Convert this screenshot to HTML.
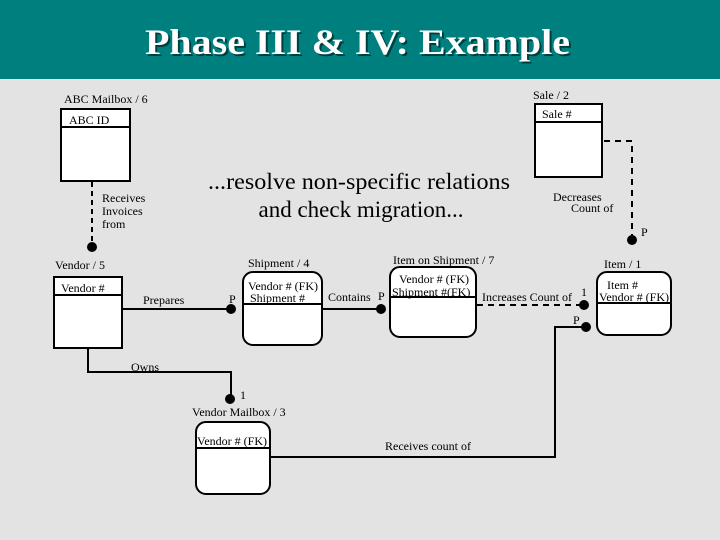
<!DOCTYPE html>
<html><head><meta charset="utf-8"><style>
html,body{margin:0;padding:0;background:#e3e3e3}
svg{display:block}
text{font-family:"Liberation Serif",serif;fill:#000}
</style></head><body>
<svg width="720" height="540" viewBox="0 0 720 540" xmlns="http://www.w3.org/2000/svg">
<rect x="0" y="0" width="720" height="540" fill="#e3e3e3"/>
<rect x="0" y="0" width="720" height="79" fill="#007f7f"/>
<text x="145" y="54" font-size="36" font-weight="bold" textLength="425" lengthAdjust="spacingAndGlyphs" style="fill:#000" opacity="0.5" transform="translate(2,2)">Phase III &amp; IV: Example</text>
<text x="145" y="54" font-size="36" font-weight="bold" textLength="425" lengthAdjust="spacingAndGlyphs" style="fill:#fff">Phase III &amp; IV: Example</text>

<g stroke="#000" stroke-width="2" fill="none">
<line x1="92" y1="182" x2="92" y2="245" stroke-dasharray="5,4"/>
<line x1="122" y1="309" x2="231" y2="309"/>
<line x1="322" y1="309" x2="381" y2="309"/>
<line x1="477" y1="305" x2="584" y2="305" stroke-dasharray="6,5"/>
<polyline points="604,141 632,141 632,240" stroke-dasharray="6,5"/>
<polyline points="88,348 88,372 231,372 231,399"/>
<polyline points="270,457 555,457 555,327 586,327"/>
</g>
<g fill="#000">
<circle cx="92" cy="247" r="5"/>
<circle cx="231" cy="309" r="5"/>
<circle cx="381" cy="309" r="5"/>
<circle cx="584" cy="305" r="5"/>
<circle cx="586" cy="327" r="5"/>
<circle cx="632" cy="240" r="5"/>
<circle cx="230" cy="399" r="5"/>
</g>

<g stroke="#000" stroke-width="2" fill="#fff">
<rect x="61" y="109" width="69" height="72"/>
<line x1="61" y1="127" x2="130" y2="127"/>
<rect x="54" y="277" width="68" height="71"/>
<line x1="54" y1="295" x2="122" y2="295"/>
<rect x="535" y="104" width="67" height="73"/>
<line x1="535" y1="122" x2="602" y2="122"/>
<rect x="243" y="272" width="79" height="73" rx="10"/>
<line x1="243" y1="304" x2="322" y2="304"/>
<rect x="390" y="267" width="86" height="70" rx="10"/>
<line x1="390" y1="297" x2="476" y2="297"/>
<rect x="597" y="272" width="74" height="63" rx="10"/>
<line x1="597" y1="303" x2="671" y2="303"/>
<rect x="196" y="422" width="74" height="72" rx="10"/>
<line x1="196" y1="448" x2="270" y2="448"/>
</g>

<g font-size="12">
<text x="64" y="103">ABC Mailbox / 6</text>
<text x="69" y="124">ABC ID</text>
<text x="102" y="202">Receives</text>
<text x="102" y="215">Invoices</text>
<text x="102" y="228">from</text>
<text x="55" y="269">Vendor / 5</text>
<text x="61" y="292">Vendor #</text>
<text x="143" y="304">Prepares</text>
<text x="229" y="303">P</text>
<text x="248" y="267">Shipment / 4</text>
<text x="248" y="290">Vendor # (FK)</text>
<text x="250" y="302">Shipment #</text>
<text x="328" y="301">Contains</text>
<text x="378" y="300">P</text>
<text x="393" y="264">Item on Shipment / 7</text>
<text x="399" y="283">Vendor # (FK)</text>
<text x="392" y="296">Shipment #(FK)</text>
<text x="482" y="301">Increases Count of</text>
<text x="581" y="296">1</text>
<text x="573" y="324">P</text>
<text x="604" y="268">Item / 1</text>
<text x="607" y="289">Item #</text>
<text x="599" y="301">Vendor # (FK)</text>
<text x="533" y="99">Sale / 2</text>
<text x="542" y="118">Sale #</text>
<text x="553" y="201">Decreases</text>
<text x="571" y="212">Count of</text>
<text x="641" y="236">P</text>
<text x="131" y="371">Owns</text>
<text x="240" y="399">1</text>
<text x="192" y="416">Vendor Mailbox / 3</text>
<text x="197" y="445">Vendor # (FK)</text>
<text x="385" y="450">Receives count of</text>
</g>

<g font-size="23">
<text x="208" y="189" textLength="302" lengthAdjust="spacingAndGlyphs">...resolve non-specific relations</text>
<text x="361" y="217" text-anchor="middle">and check migration...</text>
</g>
</svg>
</body></html>
